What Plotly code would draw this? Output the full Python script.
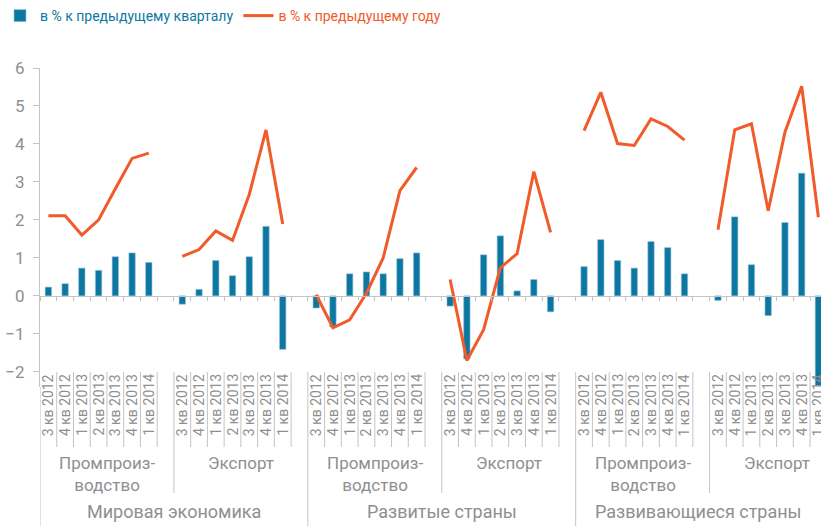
import plotly.graph_objects as go

# ---------------- data ----------------
quarters = ["3 кв 2012", "4 кв 2012", "1 кв 2013", "2 кв 2013", "3 кв 2013", "4 кв 2013", "1 кв 2014"]
products = ["Промпроиз-<br>водство", "Экспорт"]
regions = ["Мировая экономика", "Развитые страны", "Развивающиеся страны"]

qoq_world_industry = [0.23, 0.32, 0.73, 0.67, 1.03, 1.13, 0.88]
qoq_world_export = [-0.22, 0.17, 0.93, 0.53, 1.03, 1.83, -1.41]
qoq_adv_industry = [-0.32, -0.82, 0.58, 0.63, 0.58, 0.98, 1.13]
qoq_adv_export = [-0.27, -1.66, 1.08, 1.58, 0.13, 0.43, -0.42]
qoq_em_industry = [0.77, 1.48, 0.93, 0.73, 1.43, 1.27, 0.58]
qoq_em_export = [-0.12, 2.08, 0.82, -0.52, 1.93, 3.23, -2.36]

yoy_world_industry = [2.11, 2.11, 1.60, 2.00, 2.82, 3.62, 3.76]
yoy_world_export = [1.04, 1.22, 1.71, 1.46, 2.67, 4.37, 1.89]
yoy_adv_industry = [0.03, -0.84, -0.63, 0.07, 1.00, 2.77, 3.38]
yoy_adv_export = [0.43, -1.70, -0.89, 0.74, 1.11, 3.27, 1.67]
yoy_em_industry = [4.35, 5.36, 4.01, 3.96, 4.66, 4.46, 4.10]
yoy_em_export = [1.74, 4.37, 4.53, 2.24, 4.31, 5.52, 2.07]

qoq_groups = [qoq_world_industry, qoq_world_export, qoq_adv_industry,
              qoq_adv_export, qoq_em_industry, qoq_em_export]
yoy_groups = [yoy_world_industry, yoy_world_export, yoy_adv_industry,
              yoy_adv_export, yoy_em_industry, yoy_em_export]

# ---------------- style ----------------
BLUE = "#0d77a1"
ORANGE = "#f15a29"
GRAY = "#8f8f8f"
LINE_GRAY = "#c4c4c4"
FONT = "Roboto, 'DejaVu Sans', sans-serif"

SLOTS = len(quarters) + 1  # 7 quarters + one empty slot per group
W, H = 821, 526
L, T, B = 40, 68, 139
PH = H - T - B
YMIN, YMAX = -2.4, 6
SLOT_PX = 16.74


def py(pix):
    """pixel row -> paper y"""
    return (H - B - pix) / PH


# build series positions from category indices
xs, bars, lines = [], [], []
for g in range(len(qoq_groups)):
    for q in range(len(quarters)):
        xs.append(g * SLOTS + q)
        bars.append(qoq_groups[g][q])
        lines.append(yoy_groups[g][q])
    xs.append(g * SLOTS + len(quarters))
    bars.append(None)
    lines.append(None)

fig = go.Figure()
fig.add_trace(go.Bar(
    x=xs, y=bars, width=0.38,
    marker=dict(color=BLUE, line=dict(color="#8fc0d6", width=0.6)),
    name=f"<span style='color:{BLUE}'>в % к предыдущему кварталу</span>",
))
fig.add_trace(go.Scatter(
    x=xs, y=lines, mode="lines", connectgaps=False,
    line=dict(color=ORANGE, width=3),
    name=f"<span style='color:{ORANGE}'>в % к предыдущему году</span>",
))

n_groups = len(qoq_groups)
xmax = -0.5 + (W - L) / SLOT_PX

shapes = []
annotations = []
# y axis extension through the label area
shapes.append(dict(type="line", xref="x", yref="paper", x0=-0.5, x1=-0.5,
                   y0=py(H), y1=0, line=dict(color=LINE_GRAY, width=1)))
for g in range(n_groups):
    base = g * SLOTS
    for q, lab in enumerate(quarters):
        annotations.append(dict(
            x=base + q, y=py(372), xref="x", yref="paper", text=lab,
            textangle=-90, xanchor="center", yanchor="top", showarrow=False,
            font=dict(family=FONT, size=14, color=GRAY)))
        shapes.append(dict(type="line", xref="x", yref="paper",
                           x0=base + q + 0.5, x1=base + q + 0.5,
                           y0=py(447), y1=py(372),
                           line=dict(color=LINE_GRAY, width=1)))
    annotations.append(dict(
        x=base + (SLOTS - 1) / 2, y=py(451), xref="x", yref="paper",
        text=products[g % 2], xanchor="center", yanchor="top", showarrow=False,
        font=dict(family=FONT, size=17, color=GRAY)))
    if g > 0:
        bottom = H if g % 2 == 0 else 493
        shapes.append(dict(type="line", xref="x", yref="paper",
                           x0=base - 0.5, x1=base - 0.5,
                           y0=py(bottom), y1=py(372),
                           line=dict(color=LINE_GRAY, width=1)))
for r, lab in enumerate(regions):
    start = r * 2 * SLOTS - 0.5
    end = min(start + 2 * SLOTS, xmax)
    annotations.append(dict(
        x=(start + end) / 2, y=py(511), xref="x", yref="paper",
        text=lab, xanchor="center", yanchor="middle", showarrow=False,
        font=dict(family=FONT, size=18, color=GRAY)))

fig.update_layout(
    width=W, height=H,
    margin=dict(l=L, r=0, t=T, b=B, pad=0, autoexpand=False),
    plot_bgcolor="white", paper_bgcolor="white",
    showlegend=True,
    legend=dict(orientation="h", x=-1 / W, xref="container", xanchor="left",
                y=1, yref="container", yanchor="top",
                font=dict(family=FONT, size=14),
                entrywidth=0,
                bgcolor="rgba(0,0,0,0)", itemwidth=30),
    xaxis=dict(range=[-0.5, xmax], anchor="free",
               position=(0 - YMIN) / (YMAX - YMIN),
               showline=True, linecolor=LINE_GRAY, linewidth=1,
               ticks="outside", ticklen=4, tickcolor=LINE_GRAY,
               tickvals=[k - 0.5 for k in range(n_groups * SLOTS + 1)],
               showticklabels=False, showgrid=False, zeroline=False),
    yaxis=dict(range=[YMIN, YMAX], tickvals=list(range(-2, 7)),
               showline=True, linecolor=LINE_GRAY, linewidth=1,
               ticks="outside", ticklen=6, tickcolor=LINE_GRAY,
               tickfont=dict(family=FONT, size=17, color=GRAY),
               ticklabelstandoff=5,
               showgrid=False, zeroline=False),
    shapes=shapes,
    annotations=annotations,
)

fig.write_html("out.html", config={"displayModeBar": False},
               post_script="document.body.style.margin='0';")
